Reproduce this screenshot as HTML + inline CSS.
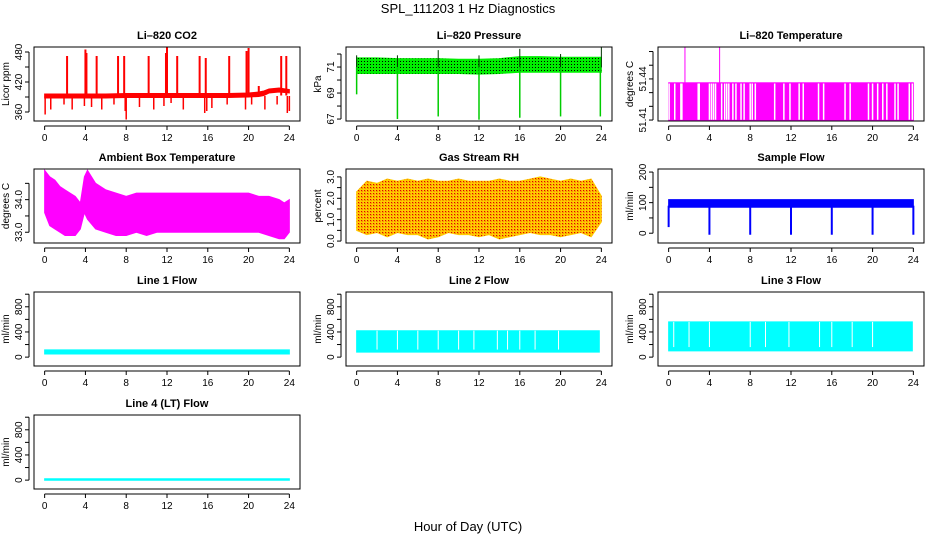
<!DOCTYPE html>
<html><head><meta charset="utf-8"><title>SPL_111203 1 Hz Diagnostics</title>
<style>
html,body{margin:0;padding:0;background:#fff;}
svg{display:block;font-family:"Liberation Sans",Arial,sans-serif;}
.tl{font-size:11px;font-weight:bold;text-anchor:middle;}
.tk{font-size:10px;text-anchor:middle;}
</style></head>
<body>
<svg id="chart" width="936" height="540" viewBox="0 0 936 540">
<defs>
<pattern id="blackdots" width="3" height="3" patternUnits="userSpaceOnUse"><rect x="1" y="1" width="1" height="1" fill="#000"/></pattern>
<pattern id="reddots" width="3" height="3" patternUnits="userSpaceOnUse"><rect x="1" y="1" width="1.2" height="1.2" fill="#e00000"/><rect x="2.5" y="2.5" width="0.6" height="0.6" fill="#e00000"/></pattern>
</defs>
<text x="468" y="13" font-size="13" text-anchor="middle">SPL_111203  1 Hz Diagnostics</text>
<text x="468" y="531" font-size="13" text-anchor="middle">Hour of Day (UTC)</text>
</svg>
<script>
// ---------- data ----------
const xTicks = [0,4,8,12,16,20,24];
// CO2
const co2BaseHours = [0,2,4,6,8,10,12,14,16,18,20,21,21.5,22,23,24];
const co2BaseLo = [388,388,388,388,389,389,389,389,389,389,390,391,393,398,400,398];
const co2BaseHi = [396,396,396,396,397,397,397,397,397,397,398,400,402,406,408,405];
const co2SpikeHours = [2.2,4.0,4.1,5.1,7.2,7.8,10.2,11.9,12.0,13.0,15.2,15.8,18.1,19.8,20.0,21.0,23.2,23.7];
const co2SpikeVals = [472,485,478,472,472,472,472,478,490,472,472,468,472,482,488,412,472,472];
const co2DipHours = [0.05,0.6,1.9,2.7,3.9,4.6,5.6,6.8,7.9,8.0,9.3,10.7,11.7,12.4,13.6,15.7,15.9,16.4,17.9,19.7,20.3,21.6,22.8,23.8,24.0];
const co2DipVals = [355,365,375,365,372,370,365,375,362,345,370,365,372,378,365,358,362,368,375,365,375,365,375,358,362];
// Pressure
const prHours = [0,2,4,6,8,10,12,14,16,18,20,22,24];
const prLo = [70.5,70.5,70.5,70.5,70.5,70.5,70.45,70.5,70.6,70.6,70.6,70.6,70.6];
const prHi = [71.7,71.7,71.65,71.65,71.65,71.6,71.6,71.65,71.8,71.8,71.75,71.75,71.75];
const prDipHours = [0,4,8,12,16,20,23.9];
const prDipVals = [68.9,67.0,67.2,66.95,67.1,67.2,67.2];
const prSpikeHours = [0,4,8,12,16,20,24];
const prSpikeVals = [71.9,71.9,72.3,71.9,72.4,72.0,72.5];
// Li-820 temperature
const ltLow = 51.41, ltHigh = 51.4371;
const ltGapHours = [0.05,0.6,1.2,1.3,2.9,3.0,4.0,4.2,4.4,4.6,5.2,5.5,5.7,5.9,6.3,6.6,7.1,7.4,8.0,8.2,8.5,10.4,11.3,11.9,12.8,13.2,14.7,15.2,17.3,17.8,19.6,20.0,20.5,21.0,21.4,22.2,22.5,23.6,23.9];
const ltSpikeHours = [1.6,5.0];
const ltSpikeVals = [51.463,51.463];
// Ambient box temperature
const abHours = [0,0.5,1,1.5,2,2.5,3,3.5,3.9,4.2,5,6,7,8,9,10,11,12,13,14,15,16,17,18,19,20,21,22,23,23.5,24];
const abLo = [33.6,33.2,33.1,33.0,32.9,32.9,32.9,33.1,33.6,33.4,33.1,33.0,32.9,32.9,33.0,32.9,33.0,33.0,33.0,33.0,33.0,33.0,33.0,33.0,33.0,33.0,33.0,32.9,32.8,32.8,33.0];
const abHi = [34.9,34.7,34.6,34.4,34.3,34.2,34.1,33.9,34.7,34.9,34.5,34.3,34.2,34.1,34.2,34.2,34.2,34.2,34.2,34.2,34.2,34.2,34.2,34.2,34.2,34.2,34.1,34.1,34.0,33.9,34.0];
// Gas stream RH
const rhHours = [0,1,2,3,4,5,6,7,8,9,10,11,12,13,14,15,16,17,18,19,20,21,22,23,24];
const rhLo = [0.5,0.3,0.4,0.2,0.4,0.3,0.3,0.1,0.2,0.4,0.3,0.3,0.2,0.3,0.1,0.2,0.3,0.4,0.3,0.3,0.2,0.3,0.4,0.2,0.9];
const rhHi = [2.3,2.8,2.7,2.9,2.8,2.9,2.8,2.9,2.8,2.8,2.9,2.8,2.8,2.8,2.9,2.8,2.8,2.9,3.0,2.9,2.8,2.9,2.8,2.9,2.1];
// Sample flow
const sfHours = [0,4,8,12,16,20,24];
const sfLo = [85,85,85,85,85,85,85];
const sfHi = [110,110,110,110,110,110,110];
const sfDipHours = [0,4,8,12,16,20,24];
const sfDipVals = [20,-5,-5,-5,-5,-5,-5];
// Line flows
const l1Lo = 50, l1Hi = 115;
const l2Lo = 80, l2Hi = 420;
const l2GapHours = [2.0,4.0,6.0,8.0,10.0,11.5,13.8,14.8,16.0,17.5,19.8];
const l3Lo = 100, l3Hi = 560;
const l3GapHours = [0.5,2.0,4.0,8.0,9.5,11.8,14.8,16.0,18.0,20.0];
const l4Val = 10;

// ---------- layout ----------
const svg = document.getElementById('chart');
const NS = 'http://www.w3.org/2000/svg';
const colLeft = [34,346,658], boxW = 266;
const rowTop = [47,169,292,415], boxH = 74;
function mk(tag, attrs, parent){
  const e = document.createElementNS(NS, tag);
  for (const k in attrs) e.setAttribute(k, attrs[k]);
  (parent||svg).appendChild(e);
  return e;
}
function makePanel(col,row,name,title,ylab,ymin,ymax,ticks,labels){
  const L = colLeft[col], T = rowTop[row];
  const g = mk('g',{});
  
  
  const xs = h => L + boxW*(0.04 + 0.92*h/24);
  const ys = v => T + boxH - boxH*(v-ymin)/(ymax-ymin);
  const t = mk('text',{x:L+boxW/2,y:T-8,class:'tl'},g); t.textContent = title;
  
  
  const data = mk('g',{},g);
  
  
  mk('rect',{x:L,y:T,width:boxW,height:boxH,fill:'none',stroke:'#000','stroke-width':1},g);
  // x axis
  const xa = mk('g',{stroke:'#000','stroke-width':1},g);
  
  
  const ay = T+boxH+5;
  mk('line',{x1:xs(0),x2:xs(24),y1:ay,y2:ay},xa);
  xTicks.forEach(h=>{
    mk('line',{x1:xs(h),x2:xs(h),y1:ay,y2:ay+4},xa);
    const tx = mk('text',{x:xs(h),y:ay+15,class:'tk',stroke:'none'},g); tx.textContent = h;
  });
  // y axis
  const ya = mk('g',{stroke:'#000','stroke-width':1},g);
  
  
  const ax = L-5;
  mk('line',{x1:ax,x2:ax,y1:ys(ticks[0]),y2:ys(ticks[ticks.length-1])},ya);
  ticks.forEach(v=>{ mk('line',{x1:ax,x2:ax-4,y1:ys(v),y2:ys(v)},ya); });
  labels.forEach(lb=>{
    const tx = mk('text',{class:'tk',transform:`translate(${L-12},${ys(lb[0])}) rotate(-90)`},g);
    tx.textContent = lb[1];
  });
  const yl = mk('text',{class:'tk',transform:`translate(${L-25},${T+boxH/2}) rotate(-90)`},g);
  yl.textContent = ylab;
  
  
  return {xs,ys,g:data};
}
function band(p, hours, lo, hi, fill){
  let d = 'M'+hours.map((h,i)=>p.xs(h)+','+p.ys(hi[i])).join('L');
  for (let i=hours.length-1;i>=0;i--) d += 'L'+p.xs(hours[i])+','+p.ys(lo[i]);
  return mk('path',{d:d+'Z',fill:fill,stroke:fill==='none'?'none':fill,'stroke-width':1},p.g);
}
function vline(p,h,v1,v2,color,w){
  return mk('line',{x1:p.xs(h),x2:p.xs(h),y1:p.ys(v1),y2:p.ys(v2),stroke:color,'stroke-width':w||1.5},p.g);
}
function rng(a,b,s){const r=[];for(let v=a;v<=b+1e-9;v+=s)r.push(+v.toFixed(4));return r;}

// CO2
let p = makePanel(0,0,'co2','Li\u2013820 CO2','Licor ppm',342,490,rng(360,480,30),[[360,'360'],[420,'420'],[480,'480']]);
band(p,co2BaseHours,co2BaseLo,co2BaseHi,'#ff0000');
co2SpikeHours.forEach((h,i)=>vline(p,h,393,co2SpikeVals[i],'#ff0000',2));
co2DipHours.forEach((h,i)=>vline(p,h,392,co2DipVals[i],'#ff0000',1.5));

// Pressure
p = makePanel(1,0,'pressure','Li\u2013820 Pressure','kPa',66.85,72.54,rng(67,72,1),[[67,'67'],[69,'69'],[71,'71']]);
band(p,prHours,prLo,prHi,'#00ee00');
mk('path',{d:p.g.lastChild.getAttribute('d'),fill:'url(#blackdots)'},p.g);
prDipHours.forEach((h,i)=>vline(p,h,71,prDipVals[i],'#00cc00',1.5));
prSpikeHours.forEach((h,i)=>vline(p,h,71,prSpikeVals[i],'#003300',1));

// Li-820 temperature
p = makePanel(2,0,'li820-temperature','Li\u2013820 Temperature','degrees C',51.4093,51.4633,rng(51.41,51.46,0.01),[[51.41,'51.41'],[51.44,'51.44']]);
band(p,[0,24],[ltLow,ltLow],[ltHigh,ltHigh],'#ff00ff');
ltGapHours.forEach(h=>vline(p,h,ltLow+0.0002,ltHigh-0.0004,'#ffffff',1.5));
mk('line',{x1:p.xs(0),x2:p.xs(24),y1:p.ys(ltHigh),y2:p.ys(ltHigh),stroke:'#ff00ff','stroke-width':1},p.g);
ltSpikeHours.forEach((h,i)=>vline(p,h,ltHigh,ltSpikeVals[i],'#ff00ff',1));

// Ambient box temperature
p = makePanel(0,1,'ambient-temperature','Ambient Box Temperature','degrees C',32.67,34.94,rng(33,34.5,0.5),[[33,'33.0'],[34,'34.0']]);
band(p,abHours,abLo,abHi,'#ff00ff');

// Gas stream RH
p = makePanel(1,1,'gas-stream-rh','Gas Stream RH','percent',-0.09,3.37,rng(0,3,0.5),[[0,'0.0'],[1,'1.0'],[2,'2.0'],[3,'3.0']]);
band(p,rhHours,rhLo,rhHi,'#ffcc00');
mk('path',{d:p.g.lastChild.getAttribute('d'),fill:'url(#reddots)'},p.g);

// Sample flow
p = makePanel(2,1,'sample-flow','Sample Flow','ml/min',-32,210,rng(0,200,50),[[0,'0'],[100,'100'],[200,'200']]);
band(p,sfHours,sfLo,sfHi,'#0000ff');
sfDipHours.forEach((h,i)=>vline(p,h,90,sfDipVals[i],'#0000ff',2));

// Line flows
const lfTicks = rng(0,1000,200), lfLabels = [[0,'0'],[400,'400'],[800,'800']];
p = makePanel(0,2,'line1-flow','Line 1 Flow','ml/min',-141,1035,lfTicks,lfLabels);
band(p,[0,24],[l1Lo,l1Lo],[l1Hi,l1Hi],'#00ffff');
p = makePanel(1,2,'line2-flow','Line 2 Flow','ml/min',-141,1035,lfTicks,lfLabels);
band(p,[0,23.8],[l2Lo,l2Lo],[l2Hi,l2Hi],'#00ffff');
l2GapHours.forEach(h=>vline(p,h,l2Lo+40,l2Hi,'#ffffff',1));
p = makePanel(2,2,'line3-flow','Line 3 Flow','ml/min',-141,1035,lfTicks,lfLabels);
band(p,[0,23.9],[l3Lo,l3Lo],[l3Hi,l3Hi],'#00ffff');
l3GapHours.forEach(h=>vline(p,h,l3Lo+60,l3Hi,'#ffffff',1));
p = makePanel(0,3,'line4-flow','Line 4 (LT) Flow','ml/min',-141,1035,lfTicks,lfLabels);
band(p,[0,24],[l4Val-12,l4Val-12],[l4Val+12,l4Val+12],'#00ffff');
</script>
</body></html>
